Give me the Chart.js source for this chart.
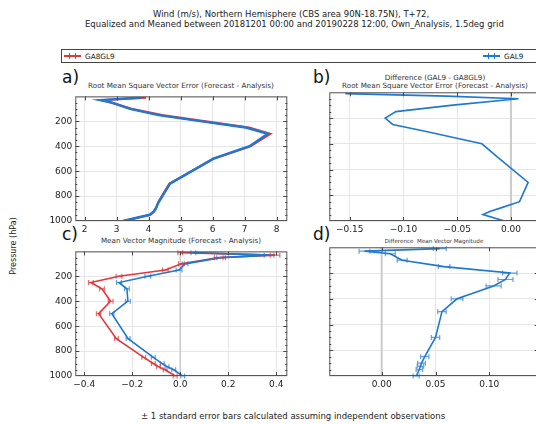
<!DOCTYPE html>
<html>
<head>
<meta charset="utf-8">
<script src="https://cdn.jsdelivr.net/npm/chart.js@4.4.1/dist/chart.umd.min.js"></script>
<style>
  html, body { margin: 0; overflow: hidden; }
  body { width: 536px; height: 424px; position: relative; background: #fff;
         font-family: "DejaVu Sans", sans-serif; color: #222; }
  .txt { position: absolute; white-space: nowrap; line-height: 1; color: #222; }
  .sub { color: #333; }
  .ctr { transform: translateX(-50%); }
  .panel { position: absolute; }
  .lbl { position: absolute; font-size: 17px; line-height: 1; color: #111; }
  .legend { position: absolute; left: 61px; top: 49px; width: 500px; height: 12px; border: 1px solid #444; }
  .key { position: absolute; top: 5px; width: 17px; height: 2px; }
  .key i { position: absolute; top: -2px; width: 1px; height: 6px; background: inherit; }
</style>
</head>
<body>
<div class="txt" style="left:153px;top:10px;font-size:8.5px">Wind (m/s), Northern Hemisphere (CBS area 90N-18.75N), T+72,</div>
<div class="txt" style="left:85px;top:19.5px;font-size:8.5px">Equalized and Meaned between 20181201 00:00 and 20190228 12:00, Own_Analysis, 1.5deg grid</div>

<div class="legend">
  <div class="key" style="left:2px;background:#e0383a"><i style="left:5px"></i><i style="left:11px"></i></div>
  <div class="txt" style="left:23px;top:2.5px;font-size:7.3px">GA8GL9</div>
  <div class="key" style="left:421px;background:#1f78d1"><i style="left:5px"></i><i style="left:11px"></i></div>
  <div class="txt" style="left:442px;top:2.5px;font-size:7.3px">GAL9</div>
</div>

<div class="lbl" style="left:62px;top:69px">a)</div>
<div class="lbl" style="left:313px;top:69px">b)</div>
<div class="lbl" style="left:62px;top:226px">c)</div>
<div class="lbl" style="left:313px;top:226px">d)</div>

<div class="txt sub ctr" style="left:181px;top:81.5px;font-size:7.2px">Root Mean Square Vector Error (Forecast - Analysis)</div>
<div class="txt sub ctr" style="left:435px;top:73.5px;font-size:7.2px">Difference (GAL9 - GA8GL9)</div>
<div class="txt sub ctr" style="left:435px;top:82px;font-size:7.2px">Root Mean Square Vector Error (Forecast - Analysis)</div>
<div class="txt sub ctr" style="left:181px;top:237px;font-size:7.2px">Mean Vector Magnitude (Forecast - Analysis)</div>
<div class="txt sub ctr" style="left:434px;top:239px;font-size:5.6px">Difference&nbsp; Mean Vector Magnitude</div>

<div class="txt" style="left:14px;top:246px;font-size:8px;transform:translate(-50%,-50%) rotate(-90deg)">Pressure (hPa)</div>
<div class="txt" style="left:141px;top:412px;font-size:8.5px">± 1 standard error bars calculated assuming independent observations</div>

<div class="panel" style="left:30px;top:88px"><canvas id="pa" width="262" height="150"></canvas></div>
<div class="panel" style="left:325px;top:88px"><canvas id="pb" width="220" height="150"></canvas></div>
<div class="panel" style="left:30px;top:243.4px"><canvas id="pc" width="262" height="150"></canvas></div>
<div class="panel" style="left:325px;top:243.4px"><canvas id="pd" width="220" height="150"></canvas></div>

<script>
// pressure levels (hPa)
const levels = [10, 30, 50, 100, 150, 200, 250, 300, 400, 500, 700, 850, 900, 925, 950, 1000];

// a) RMS vector error
const rmsGA8GL9 = [3.92, 2.55, 2.84, 3.47, 4.42, 5.78, 7.14, 7.80, 7.18, 6.03, 4.65, 4.30, 4.23, 4.17, 4.06, 3.21];
const rmsGAL9   = [3.77, 2.49, 2.85, 3.42, 4.31, 5.66, 7.03, 7.72, 7.15, 6.02, 4.67, 4.31, 4.22, 4.15, 4.03, 3.20];

// b) difference GAL9 - GA8GL9
const rmsDiff = [-0.154, -0.060, 0.007, -0.054, -0.107, -0.117, -0.110, -0.081, -0.027, -0.013, 0.016, 0.008, -0.010, -0.019, -0.026, -0.006];

// c) mean vector magnitude, with +-1 standard error
const mvmGA8GL9    = [0.000, 0.395, 0.160, 0.005, -0.062, -0.255, -0.372, -0.326, -0.290, -0.340, -0.266, -0.152, -0.112, -0.091, -0.063, -0.021];
const mvmGA8GL9Err = [0.010, 0.020, 0.018, 0.012, 0.012, 0.012, 0.010, 0.010, 0.010, 0.009, 0.008, 0.008, 0.008, 0.008, 0.008, 0.008];
const mvmGAL9      = [0.055, 0.370, 0.170, 0.020, -0.005, -0.135, -0.255, -0.222, -0.218, -0.285, -0.217, -0.112, -0.075, -0.055, -0.027, 0.010];
const mvmGAL9Err   = [0.010, 0.020, 0.018, 0.012, 0.012, 0.012, 0.010, 0.010, 0.010, 0.009, 0.008, 0.008, 0.008, 0.008, 0.008, 0.008];

// d) difference of mean vector magnitude
const mvmDiff    = [0.054, -0.016, 0.008, 0.019, 0.058, 0.119, 0.115, 0.104, 0.070, 0.056, 0.050, 0.040, 0.037, 0.036, 0.035, 0.032];
const mvmDiffErr = [0.006, 0.005, 0.0046, 0.0046, 0.0054, 0.0067, 0.007, 0.007, 0.0054, 0.0039, 0.0039, 0.0039, 0.0036, 0.003, 0.003, 0.0028];

const RED = '#e0383a', BLUE = '#1f78d1';

function pts(vals) { return levels.map((p, i) => ({ x: vals[i], y: p })); }

// frame, inward ticks, zero line and error bars
const decor = {
    id: 'decor',
    beforeDatasetsDraw(chart, args, o) {
        const { ctx, chartArea: a, scales: { x } } = chart;
        if (o.zero && x.min < 0 && x.max > 0) {
            const px = x.getPixelForValue(0);
            ctx.save();
            ctx.strokeStyle = '#cacaca'; ctx.lineWidth = o.zero;
            ctx.beginPath(); ctx.moveTo(px, a.top); ctx.lineTo(px, a.bottom); ctx.stroke();
            ctx.restore();
        }
    },
    afterDatasetsDraw(chart) {
        const { ctx, scales: { x, y } } = chart;
        chart.data.datasets.forEach(ds => {
            if (!ds.errors) return;
            ctx.save();
            ctx.strokeStyle = ds.errColor; ctx.lineWidth = 1.2;
            ds.data.forEach((d, i) => {
                const e = ds.errors[i];
                const x0 = x.getPixelForValue(d.x - e), x1 = x.getPixelForValue(d.x + e);
                const py = y.getPixelForValue(d.y);
                ctx.beginPath();
                ctx.moveTo(x0, py); ctx.lineTo(x1, py);
                ctx.moveTo(x0, py - 2.5); ctx.lineTo(x0, py + 2.5);
                ctx.moveTo(x1, py - 2.5); ctx.lineTo(x1, py + 2.5);
                ctx.stroke();
            });
            ctx.restore();
        });
    },
    afterDraw(chart) {
        const { ctx, chartArea: a, scales: { x, y } } = chart;
        ctx.save();
        ctx.strokeStyle = '#444'; ctx.lineWidth = 1;
        ctx.beginPath();
        x.ticks.forEach(t => {
            const px = Math.round(x.getPixelForValue(t.value)) + 0.5;
            ctx.moveTo(px, a.bottom); ctx.lineTo(px, a.bottom - 4);
            ctx.moveTo(px, a.top); ctx.lineTo(px, a.top + 4);
        });
        for (let p = 50; p < 1000; p += 50) {
            const py = Math.round(y.getPixelForValue(p)) + 0.5;
            const len = p % 200 === 0 ? 4 : 2;
            ctx.moveTo(a.left, py); ctx.lineTo(a.left + len, py);
            ctx.moveTo(a.right, py); ctx.lineTo(a.right - len, py);
        }
        ctx.stroke();
        ctx.strokeStyle = '#555';
        ctx.strokeRect(a.left + 0.5, a.top + 0.5, a.right - a.left - 1, a.bottom - a.top - 1);
        ctx.restore();
    }
};

function fmtNum(dec) {
    return v => {
        if (Math.abs(v) < 1e-9) v = 0;
        return v.toFixed(dec).replace('-', '\u2212');
    };
}

function renderPanel(canvasId, datasets, xr, yWidth, pad, zero) {
    const ctx = document.getElementById(canvasId);
    new Chart(ctx, {
        type: 'scatter',
        data: { datasets: datasets },
        plugins: [decor],
        options: {
            responsive: false, animation: false,
            layout: { padding: pad },
            plugins: { legend: { display: false }, tooltip: { enabled: false }, decor: { zero: zero } },
            scales: {
                x: {
                    type: 'linear', min: xr.min, max: xr.max,
                    afterFit: s => { s.height = 17; },
                    grid: { color: '#e6e6e6', drawTicks: false },
                    border: { display: false },
                    ticks: { stepSize: xr.step, includeBounds: false, padding: 3, color: '#222',
                             font: { family: 'DejaVu Sans', size: 9 }, callback: fmtNum(xr.dec) }
                },
                y: {
                    type: 'linear', reverse: true, min: 0, max: 1000,
                    afterFit: s => { s.width = yWidth; },
                    grid: { color: '#e6e6e6', drawTicks: false },
                    border: { display: false },
                    ticks: { stepSize: 200, padding: 3, color: '#222', display: yWidth > 10,
                             font: { family: 'DejaVu Sans', size: 9 },
                             callback: v => v === 0 ? '' : v }
                }
            }
        }
    });
}

function line(label, vals, color, width, errs) {
    return {
        label: label, data: pts(vals), showLine: true,
        borderColor: color, backgroundColor: color, borderWidth: width,
        pointRadius: 0, tension: 0,
        errors: errs, errColor: color === RED ? 'rgba(224,56,58,0.75)' : 'rgba(31,120,209,0.7)'
    };
}

// first dataset is drawn on top, so GAL9 (blue) goes first
renderPanel('pa', [
    line('GAL9', rmsGAL9, BLUE, 2.4),
    line('GA8GL9', rmsGA8GL9, RED, 2.2)
], { min: 1.71, max: 8.33, step: 1, dec: 0 }, 45.3, { top: 4.3, right: 4.7 }, 0);

renderPanel('pb', [
    line('GAL9 - GA8GL9', rmsDiff, BLUE, 1.6)
], { min: -0.169, max: 0.0277, step: 0.05, dec: 2 }, 4.3, { top: 4.3, right: 4.3 }, 2);

renderPanel('pc', [
    line('GAL9', mvmGAL9, BLUE, 1.6, mvmGAL9Err),
    line('GA8GL9', mvmGA8GL9, RED, 1.6, mvmGA8GL9Err)
], { min: -0.437, max: 0.446, step: 0.2, dec: 1 }, 45.3, { top: 4.3, right: 4.7 }, 1.5);

renderPanel('pd', [
    line('GAL9 - GA8GL9', mvmDiff, BLUE, 1.6, mvmDiffErr)
], { min: -0.0487, max: 0.1459, step: 0.05, dec: 2 }, 4.3, { top: 4.3, right: 6.3 }, 2);
</script>
</body>
</html>
